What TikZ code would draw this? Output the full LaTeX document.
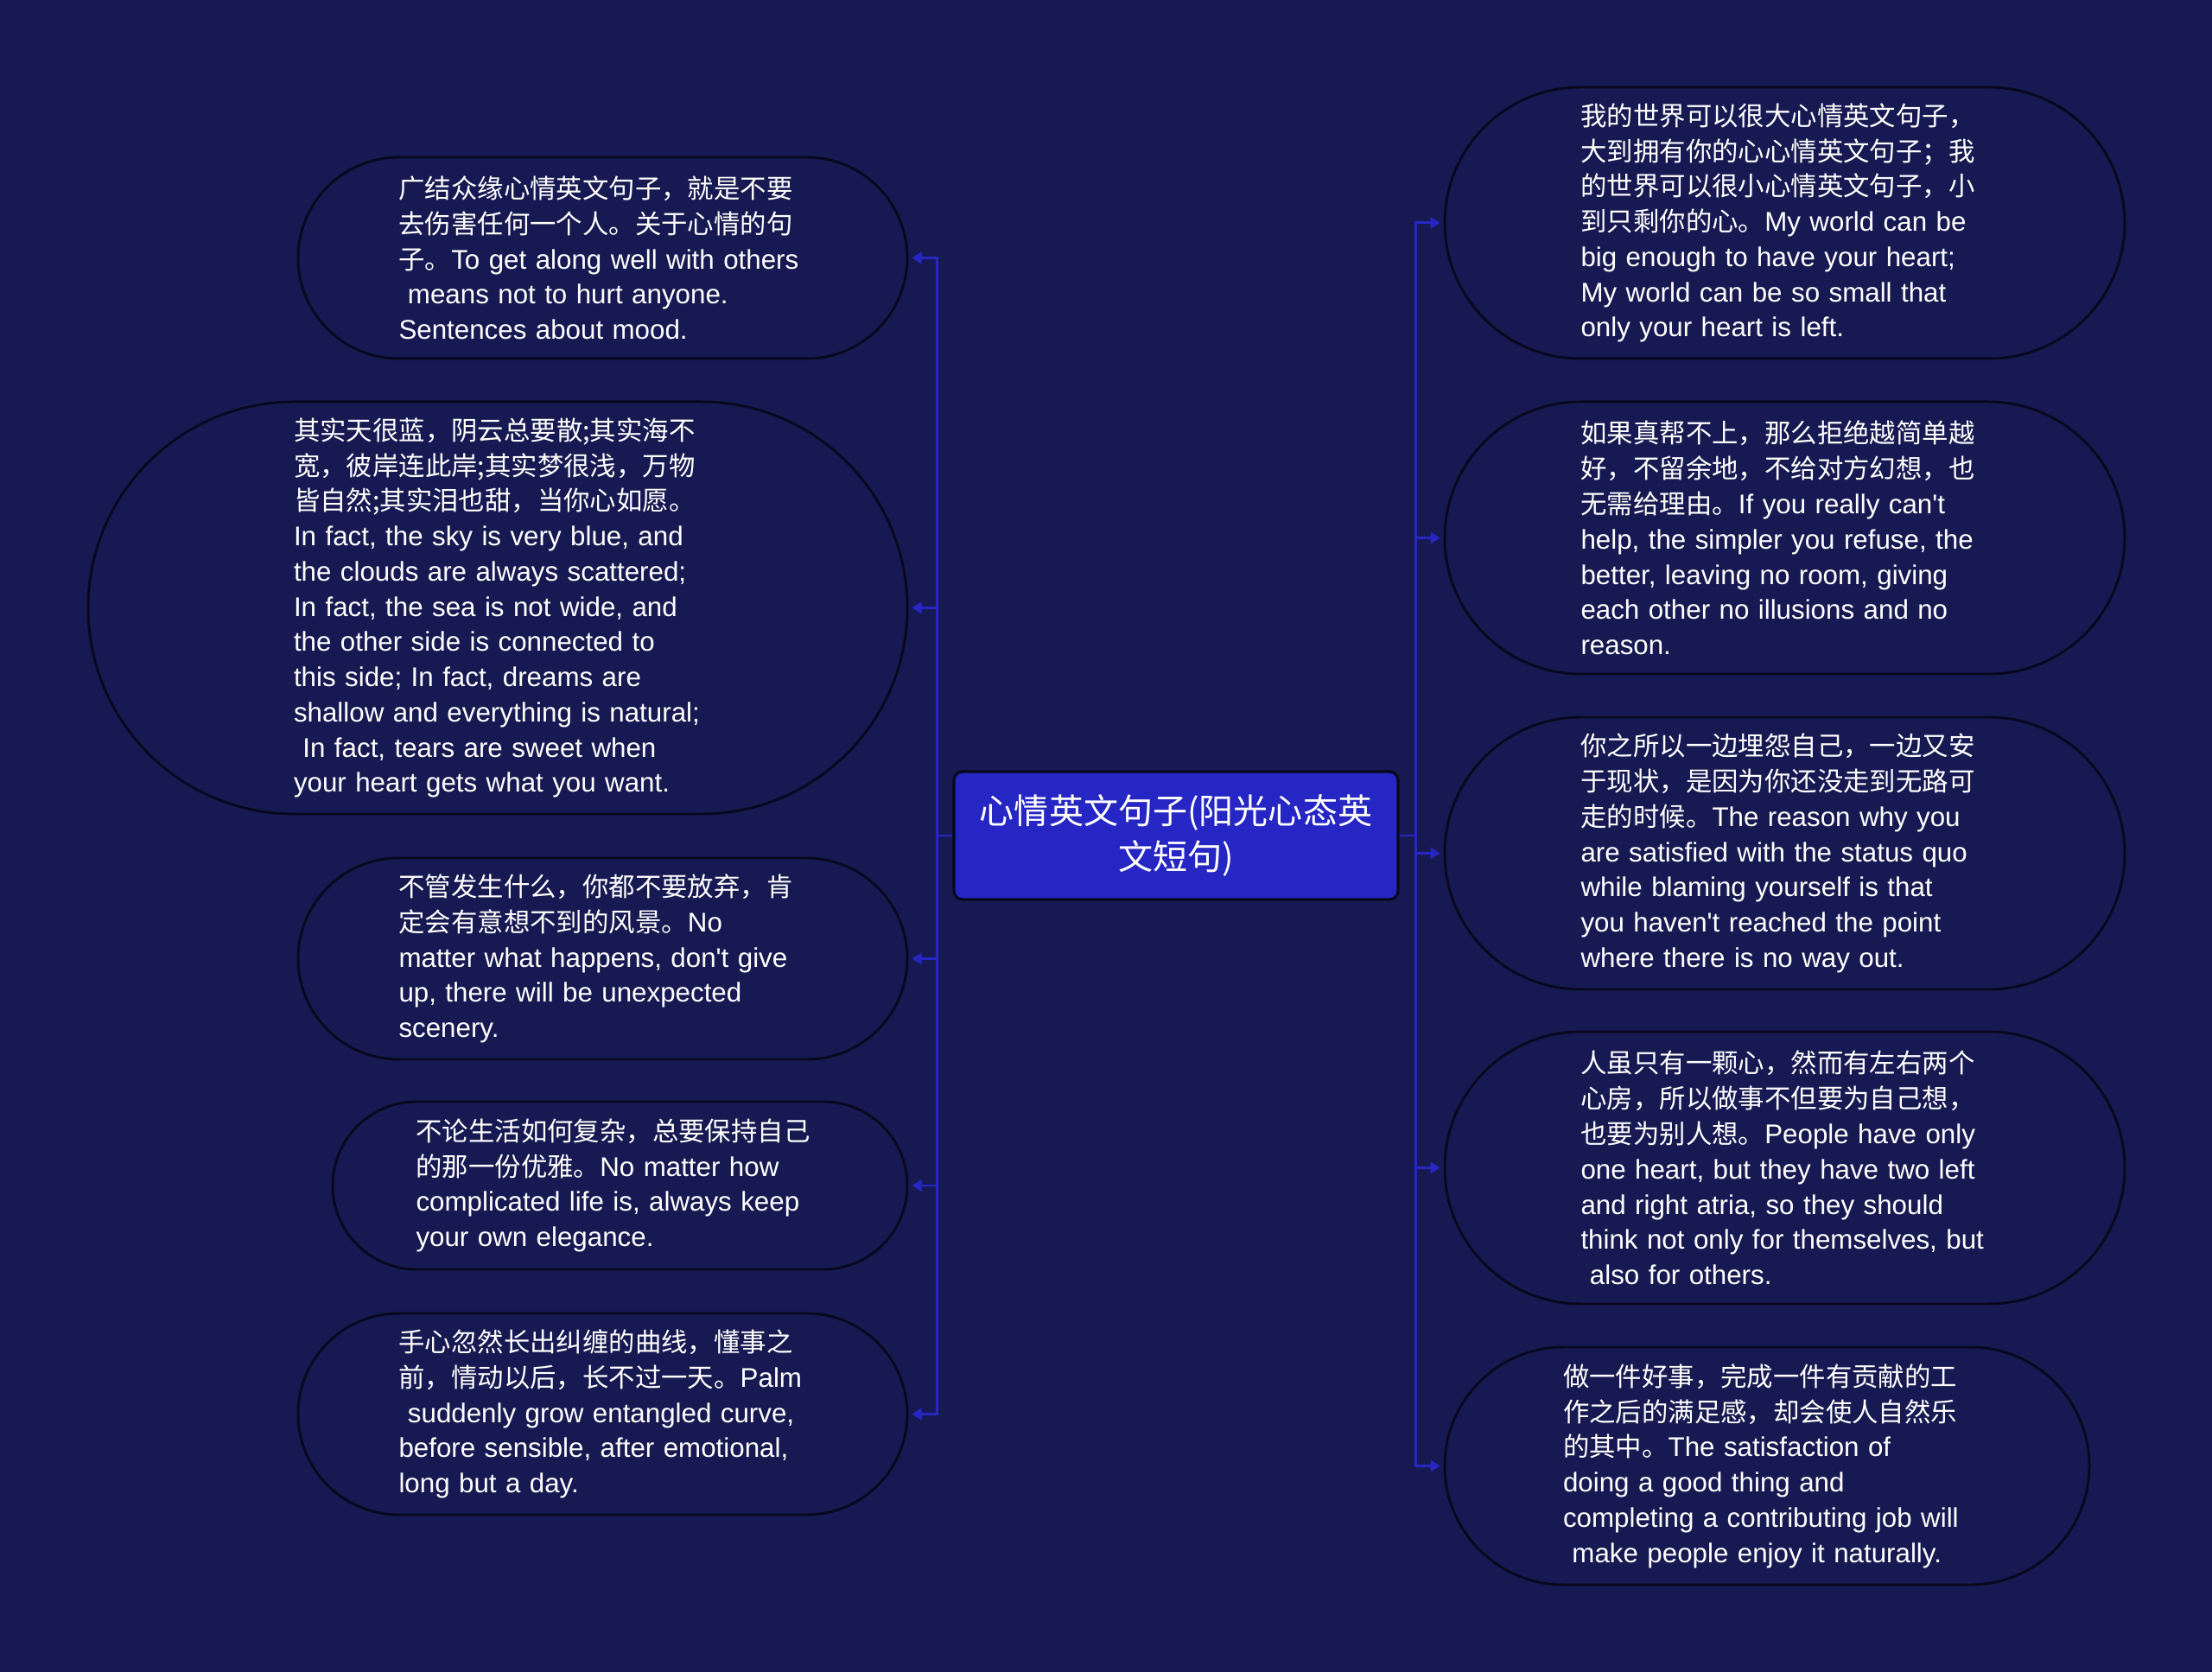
\documentclass[tikz,border=0pt]{standalone}
\usepackage{fontspec}
\setmainfont[Ligatures=TeXOff,Scale=1.03]{Liberation Sans}
\newfontfamily\cjk{Noto Sans CJK SC}
\usetikzlibrary{arrows.meta,calc}
\definecolor{pagebg}{HTML}{171A52}
\definecolor{rootfill}{HTML}{2626C4}
\definecolor{edgeline}{HTML}{08091F}
\tikzset{
  leaf/.style 2 args={draw=edgeline,line width=0.85pt,fill=pagebg,text=white,inner sep=0pt,
    minimum width=#1cm,minimum height=#2cm,rounded corners=#2cm/2,text width=4.72cm,align=left,
    font=\fontsize{8.65}{11.6}\selectfont},
  root/.style={draw=edgeline,line width=0.9pt,fill=rootfill,text=white,inner sep=0pt,
    minimum width=5.14cm,minimum height=1.48cm,rounded corners=0.1cm,text width=4.8cm,align=center,
    font=\fontsize{11.4}{15.3}\selectfont\cjk},
  branch/.style={draw=rootfill,line width=0.85pt,-{Triangle[length=0.11cm,width=0.13cm]},shorten >=0.04cm}
}
\begin{document}
\begin{tikzpicture}[x=1cm,y=-1cm]
  \useasboundingbox (0,0) rectangle (25.6,19.35);
  \fill[pagebg] (0,0) rectangle (25.6,19.35);
  \node[root] (center) at (13.61,9.67) {心情英文句子(阳光心态英\\文短句)};
  % left side
  \node[leaf={7.05}{2.33}] (l1) at (6.975,2.985) {{\cjk 广结众缘心情英文句子，就是不要\\去伤害任何一个人。关于心情的句\\子。}To get along well with others\\~means not to hurt anyone.\\Sentences about mood.};
  \node[leaf={9.48}{4.77}] (l2) at (5.76,7.035) {{\cjk 其实天很蓝，阴云总要散;其实海不\\宽，彼岸连此岸;其实梦很浅，万物\\皆自然;其实泪也甜，当你心如愿。}\\In fact, the sky is very blue, and\\the clouds are always scattered;\\In fact, the sea is not wide, and\\the other side is connected to\\this side; In fact, dreams are\\shallow and everything is natural;\\~In fact, tears are sweet when\\your heart gets what you want.};
  \node[leaf={7.05}{2.33}] (l3) at (6.975,11.095) {{\cjk 不管发生什么，你都不要放弃，肯\\定会有意想不到的风景。}No\\matter what happens, don't give\\up, there will be unexpected\\scenery.};
  \node[leaf={6.65}{1.94}] (l4) at (7.175,13.72) {{\cjk 不论生活如何复杂，总要保持自己\\的那一份优雅。}No matter how\\complicated life is, always keep\\your own elegance.};
  \node[leaf={7.05}{2.33}] (l5) at (6.975,16.365) {{\cjk 手心忽然长出纠缠的曲线，懂事之\\前，情动以后，长不过一天。}Palm\\~suddenly grow entangled curve,\\before sensible, after emotional,\\long but a day.};
  % right side
  \node[leaf={7.87}{3.14}] (r1) at (20.655,2.58) {{\cjk 我的世界可以很大心情英文句子，\\大到拥有你的心心情英文句子；我\\的世界可以很小心情英文句子，小\\到只剩你的心。}My world can be\\big enough to have your heart;\\My world can be so small that\\only your heart is left.};
  \node[leaf={7.87}{3.15}] (r2) at (20.655,6.225) {{\cjk 如果真帮不上，那么拒绝越简单越\\好，不留余地，不给对方幻想，也\\无需给理由。}If you really can't\\help, the simpler you refuse, the\\better, leaving no room, giving\\each other no illusions and no\\reason.};
  \node[leaf={7.87}{3.15}] (r3) at (20.655,9.875) {{\cjk 你之所以一边埋怨自己，一边又安\\于现状，是因为你还没走到无路可\\走的时候。}The reason why you\\are satisfied with the status quo\\while blaming yourself is that\\you haven't reached the point\\where there is no way out.};
  \node[leaf={7.87}{3.15}] (r4) at (20.655,13.515) {{\cjk 人虽只有一颗心，然而有左右两个\\心房，所以做事不但要为自己想，\\也要为别人想。}People have only\\one heart, but they have two left\\and right atria, so they should\\think not only for themselves, but\\~also for others.};
  \node[leaf={7.46}{2.75}] (r5) at (20.45,16.965) {{\cjk 做一件好事，完成一件有贡献的工\\作之后的满足感，却会使人自然乐\\的其中。}The satisfaction of\\doing a good thing and\\completing a contributing job will\\~make people enjoy it naturally.};
  \coordinate (ltrunk) at ($(center.west) + (-0.18,0)$);
  \coordinate (rtrunk) at ($(center.east) + (0.19,0)$);
  \foreach \n in {l1,l2,l3,l4,l5} {
    \draw[branch] (center.west) -- (ltrunk) |- (\n.east);
  }
  \foreach \n in {r1,r2,r3,r4,r5} {
    \draw[branch] (center.east) -- (rtrunk) |- (\n.west);
  }
\end{tikzpicture}
\end{document}
